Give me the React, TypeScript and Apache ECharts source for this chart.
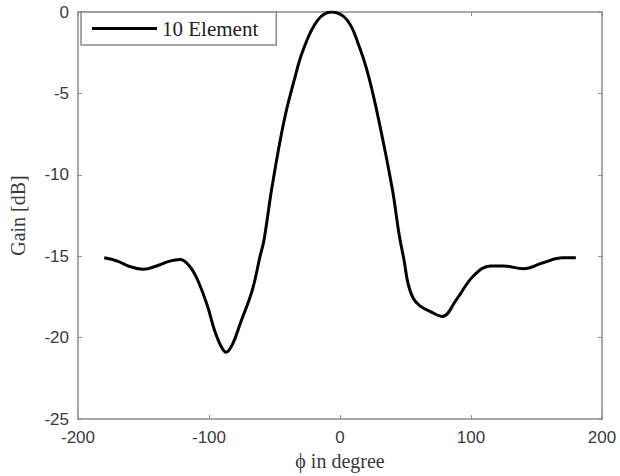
import React, { useEffect, useRef } from "react";
import * as echarts from "echarts";

const phiDeg = [-180, -170, -160, -150, -140, -130, -122, -115, -109, -101, -96, -91, -87, -82, -76, -67, -61, -58, -52, -43, -35, -28, -17, -6.5, 5.5, 15, 22, 30, 40, 45, 49, 52, 56, 61, 69, 78, 89, 102, 115, 125, 140, 155, 170, 180];
const gainDb = [-15.1, -15.3, -15.65, -15.8, -15.6, -15.3, -15.2, -15.6, -16.4, -18.1, -19.5, -20.5, -20.9, -20.4, -19.1, -17.1, -15.0, -14.0, -10.8, -6.8, -4.2, -2.3, -0.5, 0, -0.5, -2.2, -4.0, -6.8, -10.9, -13.6, -15.3, -16.7, -17.6, -18.05, -18.4, -18.7, -17.65, -16.2, -15.6, -15.6, -15.77, -15.4, -15.1, -15.1];
const seriesName = "10 Element";
const xTitle = "ϕ in degree";
const yTitle = "Gain [dB]";

export default function App() {
  const ref = useRef<HTMLDivElement>(null);
  useEffect(() => {
    if (!ref.current) return;
    const chart = echarts.init(ref.current, undefined, { renderer: "svg" });
    const axisColor = "#8a8a8a";
    const textColor = "#3a3a3a";
    const data = phiDeg.map((x, i) => [x, gainDb[i]]);
    chart.setOption({
      animation: false,
      backgroundColor: "#ffffff",
      grid: { left: 77, right: 18, top: 12, bottom: 57, show: false },
      legend: {
        data: [{ name: seriesName, icon: "rect" }],
        left: 81,
        top: 12,
        orient: "horizontal",
        padding: [6, 18, 6, 11],
        itemWidth: 65,
        itemHeight: 3,
        itemGap: 6,
        itemStyle: { color: "#000" },
        borderColor: axisColor,
        borderWidth: 1.5,
        backgroundColor: "#fff",
        textStyle: { fontFamily: "Liberation Serif", fontSize: 21, color: "#222" },
      },
      xAxis: [
        {
          type: "value",
          min: -200,
          max: 200,
          interval: 100,
          position: "bottom",
          name: xTitle,
          nameLocation: "middle",
          nameGap: 32,
          nameTextStyle: { fontFamily: "Liberation Serif", fontSize: 20, color: textColor },
          axisLine: { show: true, onZero: false, lineStyle: { color: axisColor, width: 1.5 } },
          axisTick: { show: true, inside: true, length: 4, lineStyle: { color: axisColor } },
          axisLabel: { margin: 10, fontFamily: "Liberation Sans", fontSize: 17, color: textColor },
          splitLine: { show: false },
        },
        {
          type: "value",
          min: -200,
          max: 200,
          interval: 100,
          position: "top",
          axisLine: { show: true, onZero: false, lineStyle: { color: axisColor, width: 1.5 } },
          axisTick: { show: true, inside: true, length: 4, lineStyle: { color: axisColor } },
          axisLabel: { show: false },
          splitLine: { show: false },
        },
      ],
      yAxis: [
        {
          type: "value",
          min: -25,
          max: 0,
          interval: 5,
          position: "left",
          name: yTitle,
          nameLocation: "middle",
          nameGap: 50,
          nameTextStyle: { fontFamily: "Liberation Serif", fontSize: 20, color: textColor },
          axisLine: { show: true, onZero: false, lineStyle: { color: axisColor, width: 1.5 } },
          axisTick: { show: true, inside: true, length: 4, lineStyle: { color: axisColor } },
          axisLabel: { margin: 9, fontFamily: "Liberation Sans", fontSize: 17, color: textColor },
          splitLine: { show: false },
        },
        {
          type: "value",
          min: -25,
          max: 0,
          interval: 5,
          position: "right",
          axisLine: { show: true, onZero: false, lineStyle: { color: axisColor, width: 1.5 } },
          axisTick: { show: true, inside: true, length: 4, lineStyle: { color: axisColor } },
          axisLabel: { show: false },
          splitLine: { show: false },
        },
      ],
      series: [
        {
          name: seriesName,
          type: "line",
          data,
          smooth: 0.4,
          symbol: "none",
          showSymbol: false,
          lineStyle: { color: "#000", width: 3 },
          itemStyle: { color: "#000" },
        },
      ],
    });
    return () => chart.dispose();
  }, []);
  return <div ref={ref} style={{ position: "fixed", left: 0, top: 0, width: 620, height: 476 }} />;
}
